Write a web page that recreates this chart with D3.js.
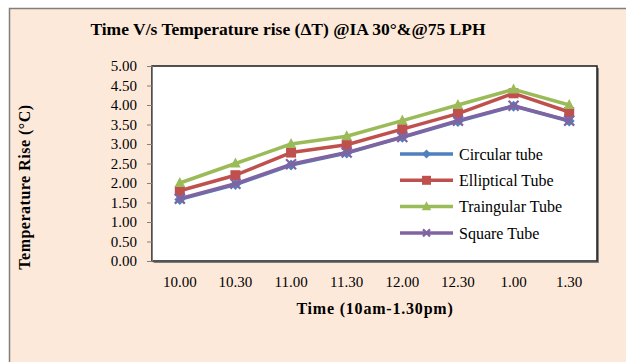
<!DOCTYPE html>
<html><head><meta charset="utf-8">
<script src="https://cdn.jsdelivr.net/npm/d3@7"></script>
<style>body{margin:0;background:#fff}svg{display:block}</style>
</head><body><svg id="c" width="626" height="362"></svg>
<script>
const categories = ["10.00","10.30","11.00","11.30","12.00","12.30","1.00","1.30"];
const circular   = [1.58,1.96,2.46,2.77,3.17,3.58,3.97,3.59];
const elliptical = [1.80,2.20,2.78,2.98,3.38,3.78,4.30,3.82];
const triangular = [2.00,2.50,3.00,3.20,3.60,4.00,4.40,4.00];
const square     = [1.60,1.98,2.48,2.78,3.18,3.60,3.98,3.60];
const yTicks = [0,0.5,1,1.5,2,2.5,3,3.5,4,4.5,5];
const seriesNames = ["Circular tube","Elliptical Tube","Traingular Tube","Square Tube"];
const seriesColors = ["#4F81BD","#C0504D","#9BBB59","#8064A2"];
const seriesMarkers = ["diamond","square","triangle","x"];
const seriesValues = [circular, elliptical, triangular, square];

const FONT = "'Liberation Serif', serif";
const svg = d3.select("#c");
svg.append("rect").attr("x",9.5).attr("y",8.5).attr("width",640).attr("height",400)
  .attr("fill","#FDE9D9").attr("stroke","#7f7f7f").attr("stroke-width",1.5);

const L=152, R=597, T=66, B=261;
const x = d3.scaleBand().domain(categories).range([L,R]);
const y = d3.scaleLinear().domain([0,5]).range([B,T]);

// plot area shadow + frame
svg.append("rect").attr("x",L+2).attr("y",T+2).attr("width",R-L).attr("height",B-T).attr("fill","#888");
svg.append("rect").attr("x",L).attr("y",T).attr("width",R-L).attr("height",B-T)
  .attr("fill","#fff").attr("stroke","#1a1a1a").attr("stroke-width",1.5);

// y axis
const ya = svg.append("g").attr("transform",`translate(${L},0)`)
  .call(d3.axisLeft(y).tickValues(yTicks).tickFormat(d3.format(".2f")).tickSize(5).tickPadding(10));
ya.select(".domain").attr("stroke","#808080");
ya.selectAll(".tick line").attr("stroke","#808080");
ya.selectAll("text").attr("font-family",FONT).attr("font-size",15).attr("fill","#000");

// x axis
const xa = svg.append("g").attr("transform",`translate(0,${B})`)
  .call(d3.axisBottom(x).tickSize(0).tickPadding(15));
xa.select(".domain").attr("stroke","#555").attr("stroke-width",1.5);
xa.selectAll("text").attr("font-family",FONT).attr("font-size",15).attr("fill","#000");

const cx = d => x(d) + x.bandwidth()/2;

function marker(g, type, color, px, py, s) {
  if (type==="diamond") {
    g.append("path").attr("d",`M${px},${py-s}L${px+s},${py}L${px},${py+s}L${px-s},${py}Z`).attr("fill",color);
  } else if (type==="square") {
    g.append("rect").attr("x",px-s).attr("y",py-s).attr("width",2*s).attr("height",2*s).attr("fill",color);
  } else if (type==="triangle") {
    g.append("path").attr("d",`M${px},${py-s*1.2}L${px+s*1.05},${py+s*0.8}L${px-s*1.05},${py+s*0.8}Z`).attr("fill",color);
  } else {
    g.append("path").attr("d",`M${px-s},${py-s}L${px+s},${py+s}M${px+s},${py-s}L${px-s},${py+s}`)
      .attr("stroke",color).attr("stroke-width",2.2).attr("fill","none");
  }
}

const line = d3.line().x((d,i)=>cx(categories[i])).y(d=>y(d));
seriesValues.forEach((vals, si) => {
  const g = svg.append("g");
  g.append("path").datum(vals).attr("d",line).attr("fill","none")
    .attr("stroke",seriesColors[si]).attr("stroke-width",3.5).attr("stroke-linejoin","round");
  vals.forEach((v,i)=> marker(g, seriesMarkers[si], seriesColors[si], cx(categories[i]), y(v), seriesMarkers[si]==="diamond"?5.5:5));
});

// legend
seriesNames.forEach((n, i) => {
  const ly = 154 + i*26.3;
  const g = svg.append("g");
  g.append("line").attr("x1",400).attr("x2",453).attr("y1",ly).attr("y2",ly)
    .attr("stroke",seriesColors[i]).attr("stroke-width",3.5);
  marker(g, seriesMarkers[i], seriesColors[i], 426.5, ly, seriesMarkers[i]==="x"?3.5:4.5);
  g.append("text").attr("x",459).attr("y",ly).attr("dy","0.35em")
    .attr("font-family",FONT).attr("font-size",16).attr("fill","#000").text(n);
});

// titles
svg.append("text").attr("x",288).attr("y",35).attr("text-anchor","middle")
  .attr("font-family",FONT).attr("font-weight","bold").attr("font-size",17.5).attr("fill","#000")
  .text("Time V/s Temperature rise (ΔT) @IA 30°&@75 LPH");
svg.append("text").attr("x",375).attr("y",314).attr("text-anchor","middle")
  .attr("font-family",FONT).attr("font-weight","bold").attr("font-size",16).attr("letter-spacing","0.8px").attr("fill","#000")
  .text("Time (10am-1.30pm)");
svg.append("text").attr("transform","translate(30,187) rotate(-90)").attr("text-anchor","middle")
  .attr("font-family",FONT).attr("font-weight","bold").attr("font-size",16).attr("letter-spacing","0.5px").attr("fill","#000")
  .text("Temperature Rise (°C)");
</script></body></html>
